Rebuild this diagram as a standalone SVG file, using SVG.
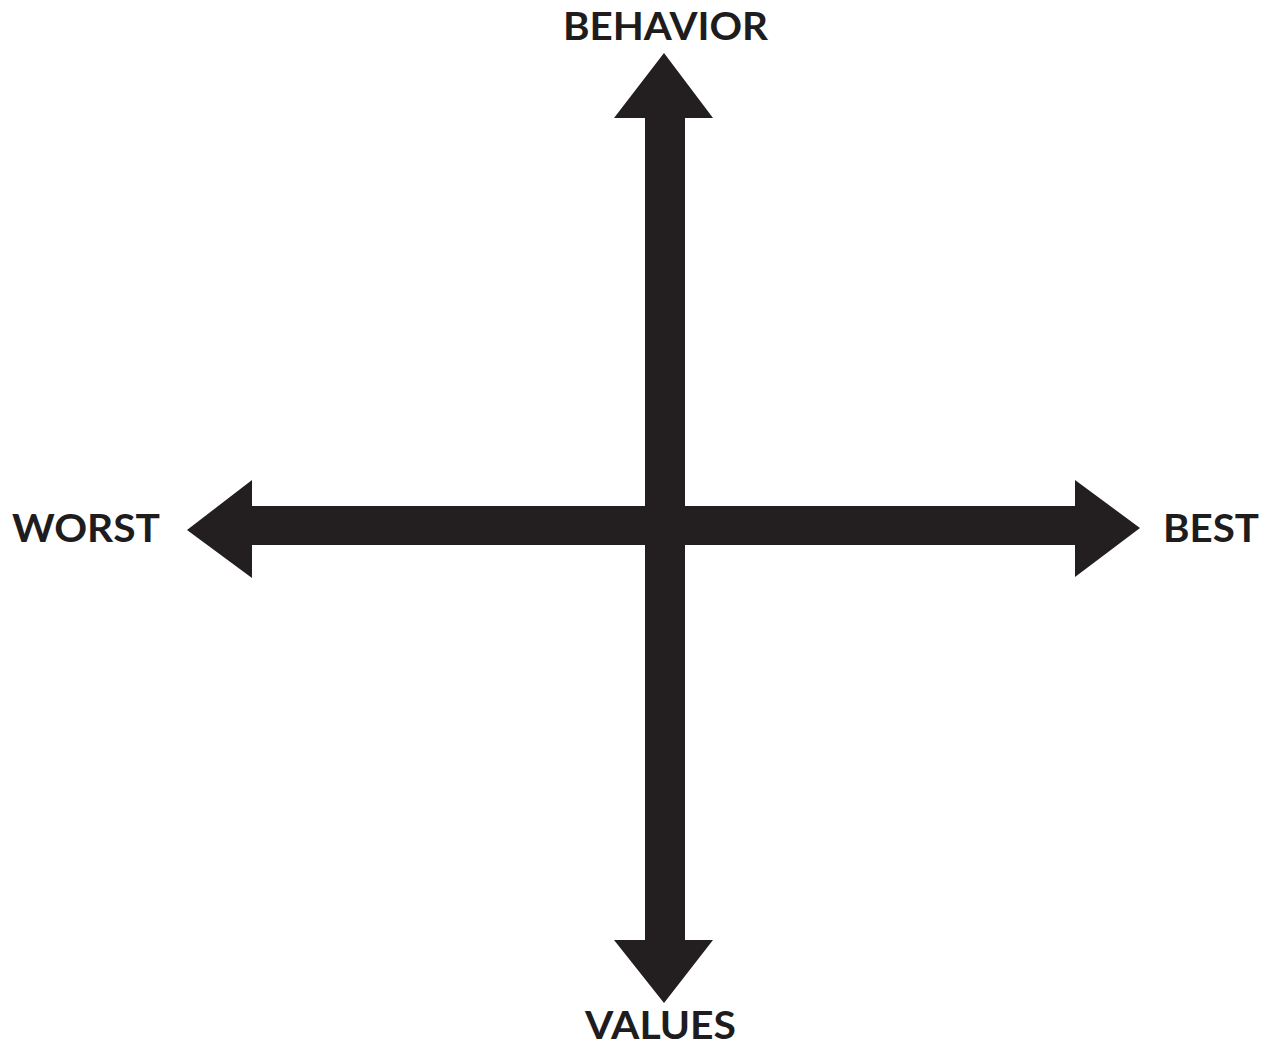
<svg xmlns="http://www.w3.org/2000/svg" width="1270" height="1048" viewBox="0 0 1270 1048">
<style>
.lbl{font-family:Lato,"Open Sans","Liberation Sans",sans-serif;font-weight:700;font-size:38px;fill:#1e1c1c}
.arr{fill:#231f20}
</style>
<rect width="1270" height="1048" fill="#ffffff"/>
<g id="connectors">
<path class="arr" d="M664,53 L713,118 L685,118 L685,506 L1075,506 L1075,480 L1140,528 L1075,577 L1075,545 L685,545 L685,940 L713,940 L664,1003 L614,940 L645,940 L645,545 L252,545 L252,578 L187,530 L252,480 L252,506 L645,506 L645,118 L614,118 Z"/>
</g>
<g id="behavior"><text class="lbl" x="563" y="40" textLength="205" lengthAdjust="spacingAndGlyphs">BEHAVIOR</text></g>
<g id="worst"><text class="lbl" x="12" y="542" textLength="148" lengthAdjust="spacingAndGlyphs">WORST</text></g>
<g id="best"><text class="lbl" x="1163" y="542" textLength="96" lengthAdjust="spacingAndGlyphs">BEST</text></g>
<g id="values"><text class="lbl" x="585" y="1039" textLength="151" lengthAdjust="spacingAndGlyphs">VALUES</text></g>
</svg>
